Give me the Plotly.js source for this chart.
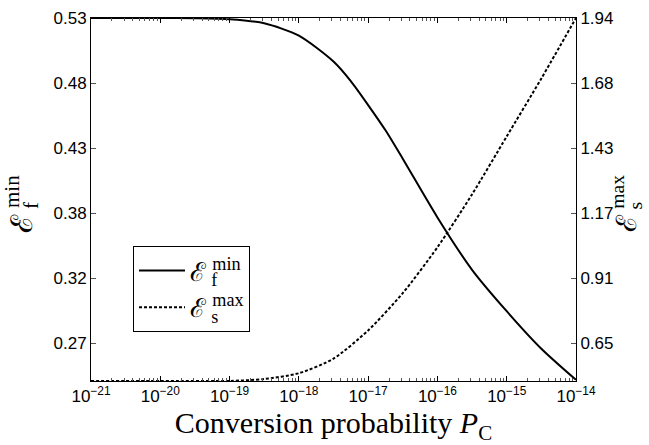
<!DOCTYPE html>
<html>
<head>
<meta charset="utf-8">
<script src="https://cdn.plot.ly/plotly-3.0.1.min.js"></script>
<style>html,body{margin:0;padding:0;background:#fff;}#plot{width:649px;height:445px;}</style>
</head>
<body>
<div id="plot"></div>
<script>
// Conversion probability values and curves
const pFmin = [1e-21, 1e-20, 3.16e-20, 1e-19, 3.16e-19, 1e-18, 3.16e-18, 5.62e-18, 1e-17, 1.78e-17, 3.16e-17, 1e-16, 3.16e-16, 1e-15, 3.16e-15, 1e-14];
const eFmin = [0.5300, 0.5300, 0.5298, 0.5290, 0.5258, 0.5160, 0.4955, 0.4800, 0.4610, 0.4410, 0.4185, 0.3720, 0.3305, 0.2977, 0.2680, 0.2433];

const pSmax = [1e-21, 1e-20, 1e-19, 3.16e-19, 1e-18, 3.16e-18, 1e-17, 3.16e-17, 1e-16, 3.16e-16, 1e-15, 3.16e-15, 1e-14];
const eSmax = [0.4995, 0.4995, 0.4995, 0.5070, 0.5300, 0.5880, 0.7000, 0.8480, 1.0300, 1.2400, 1.4700, 1.7000, 1.9400];

// Axis ticks
const xTickVals = [1e-21, 1e-20, 1e-19, 1e-18, 1e-17, 1e-16, 1e-15, 1e-14];
const xTickText = ['10<sup>−21</sup>', '10<sup>−20</sup>', '10<sup>−19</sup>', '10<sup>−18</sup>', '10<sup>−17</sup>', '10<sup>−16</sup>', '10<sup>−15</sup>', '10<sup>−14</sup>'];
const leftTickVals = [0.53, 0.4785, 0.427, 0.3755, 0.324, 0.2725];
const leftTickText = ['0.53', '0.48', '0.43', '0.38', '0.32', '0.27'];
const rightTickVals = [1.94, 1.682, 1.424, 1.166, 0.908, 0.65];
const rightTickText = ['1.94', '1.68', '1.43', '1.17', '0.91', '0.65'];
const leftRange = [0.2424, 0.53];
const rightRange = [0.4992, 1.94];
const xRangeLog = [-21, -14];

// minor tick positions (2..9 per decade)
const minorVals = [];
for (let d = xRangeLog[0]; d < xRangeLog[1]; d++) {
  for (let k = 2; k <= 9; k++) minorVals.push(k * Math.pow(10, d));
}

const W = 649, H = 445;
const M = {l: 91, r: 73, t: 18, b: 64};
const pw = W - M.l - M.r, ph = H - M.t - M.b;
const px = x => (x - M.l) / pw;
const py = y => (H - M.b - y) / ph;

const scriptE = 'DejaVu Serif, serif';
const serif = 'Liberation Serif, Times New Roman, serif';
const sans = 'Liberation Sans, Arial, sans-serif';

// stacked sub/superscript: the subscript pulls the superscript back with negative letter-spacing
function stacked(sub, sup, back) {
  return 'ℰ\u2009<sub><span style="font-family:Liberation Serif;letter-spacing:-' + back + 'px">' + sub +
    '</span></sub><sup><span style="font-family:Liberation Serif">' + sup + '</span></sup>';
}
const labelF = stacked('f', 'min', 6);
const labelS = stacked('s', 'max', 7);

const traces = [
  {x: pFmin, y: eFmin, type: 'scatter', mode: 'lines', name: stacked('f', 'min', 5),
   line: {color: '#000', width: 2, shape: 'spline', smoothing: 0.7}, yaxis: 'y'},
  {x: pSmax, y: eSmax, type: 'scatter', mode: 'lines', name: stacked('s', 'max', 6),
   line: {color: '#000', width: 2, dash: '3px,2px', shape: 'spline', smoothing: 0.7}, yaxis: 'y2'}
];

function ann(x, y, text, size, angle, fam) {
  return {x: px(x), y: py(y), xref: 'paper', yref: 'paper', text: text, showarrow: false,
    xanchor: 'center', yanchor: 'middle', textangle: angle || 0, borderpad: 0,
    font: {family: fam || serif, size: size, color: '#000'}};
}

const layout = {
  width: W, height: H,
  margin: M,
  paper_bgcolor: '#fff', plot_bgcolor: '#fff',
  showlegend: true,
  legend: {x: px(133), y: py(246), xanchor: 'left', yanchor: 'top',
    bordercolor: '#000', borderwidth: 1, bgcolor: '#fff',
    font: {family: scriptE, size: 26, color: '#000'}, itemwidth: 46},
  xaxis: {type: 'log', range: xRangeLog, tickvals: xTickVals, ticktext: xTickText,
    ticks: 'inside', ticklen: 5, tickcolor: '#000', tickwidth: 1,
    showline: true, linecolor: '#000', linewidth: 1, mirror: 'ticks', showgrid: false, zeroline: false,
    tickfont: {family: sans, size: 17, color: '#000'},
    minor: {tickvals: minorVals, ticks: 'inside', ticklen: 3, tickcolor: '#555', showgrid: false},
    title: {text: 'Conversion probability <i>P</i><sub>C</sub>', font: {family: serif, size: 30, color: '#000'}, standoff: 2}},
  yaxis: {range: leftRange, tickvals: leftTickVals, ticktext: leftTickText,
    ticks: 'inside', ticklen: 5, tickcolor: '#555', showline: true, linecolor: '#000', linewidth: 1,
    mirror: false, showgrid: false, zeroline: false,
    tickfont: {family: sans, size: 17, color: '#000'}},
  yaxis2: {range: rightRange, tickvals: rightTickVals, ticktext: rightTickText, overlaying: 'y', side: 'right',
    ticks: 'inside', ticklen: 5, tickcolor: '#555', showline: true, linecolor: '#000', linewidth: 1,
    showgrid: false, zeroline: false,
    tickfont: {family: sans, size: 17, color: '#000'}},
  annotations: [
    ann(21, 204, labelF, 30, -90, scriptE),
    ann(626, 204, labelS, 28, -90, scriptE)
  ]
};

Plotly.newPlot('plot', traces, layout, {displayModeBar: false, staticPlot: true});
</script>
</body>
</html>
